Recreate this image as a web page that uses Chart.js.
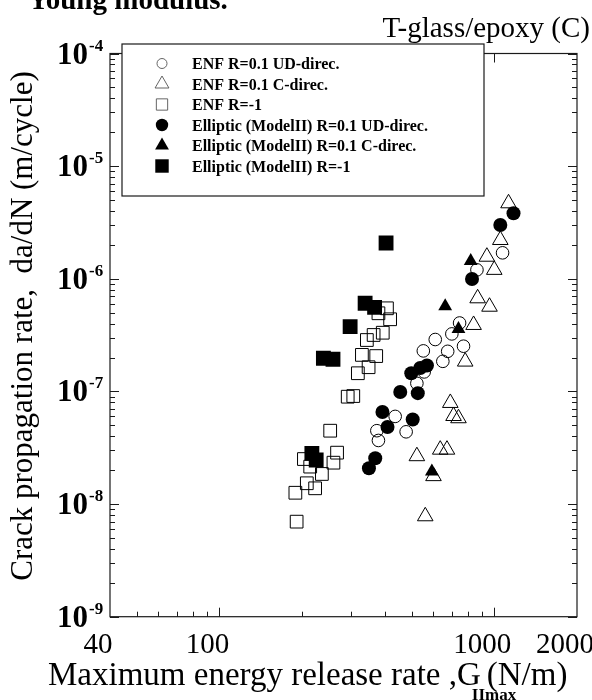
<!DOCTYPE html>
<html>
<head>
<meta charset="utf-8">
<script src="https://cdn.jsdelivr.net/npm/chart.js@4.4.1/dist/chart.umd.min.js"></script>
<style>
  html, body { margin: 0; padding: 0; background: #fff; }
  #chart { display: block; }
</style>
</head>
<body>
<canvas id="chart" width="592" height="700"></canvas>
<script>
// G_IImax (N/m) and da/dN (m/cycle)
const enfUdG    = [1072, 865, 748, 701, 610, 773, 552, 677, 650, 556, 523, 436, 374, 379, 478];
const enfUdRate = [1.7e-6, 1.2e-6, 4.05e-7, 3.24e-7, 2.89e-7, 2.52e-7, 2.29e-7, 2.27e-7, 1.85e-7, 1.49e-7, 1.18e-7, 6.0e-8, 4.48e-8, 3.67e-8, 4.38e-8];

const enfCG    = [1127, 1052, 940, 1000, 870, 961, 841, 784, 692, 711, 741, 636, 673, 523, 601, 561];
const enfCRate = [4.68e-6, 2.21e-6, 1.57e-6, 1.2e-6, 6.71e-7, 5.65e-7, 3.89e-7, 1.84e-7, 7.9e-8, 6.05e-8, 5.78e-8, 3.04e-8, 3.04e-8, 2.66e-8, 1.77e-8, 7.79e-9];

const enfRevG    = [407, 418, 379, 393, 364, 344, 372, 330, 349, 319, 307, 293, 253, 268, 260, 203, 214, 236, 208, 223, 189, 191];
const enfRevRate = [5.47e-7, 4.37e-7, 4.94e-7, 3.32e-7, 3.17e-7, 2.86e-7, 2.06e-7, 2.11e-7, 1.64e-7, 1.45e-7, 9.1e-8, 8.98e-8, 4.48e-8, 2.86e-8, 2.33e-8, 2.51e-8, 2.15e-8, 1.85e-8, 1.53e-8, 1.38e-8, 1.26e-8, 6.98e-9];

const ellUdG    = [1175, 1052, 830, 569, 538, 499, 455, 527, 392, 409, 505, 350, 369];
const ellUdRate = [3.82e-6, 3.0e-6, 9.96e-7, 1.70e-7, 1.615e-7, 1.45e-7, 9.89e-8, 9.65e-8, 6.57e-8, 4.83e-8, 5.64e-8, 2.08e-8, 2.55e-8];

const ellCG    = [821, 663, 741, 593];
const ellCRate = [1.44e-6, 5.70e-7, 3.58e-7, 1.95e-8];

const ellRevG    = [404, 339, 367, 299, 239, 259, 217, 225];
const ellRevRate = [2.08e-6, 6.06e-7, 5.58e-7, 3.76e-7, 1.97e-7, 1.93e-7, 2.82e-8, 2.46e-8];

const seriesLabels = [
  'ENF R=0.1 UD-direc.',
  'ENF R=0.1 C-direc.',
  'ENF R=-1',
  'Elliptic (ModelII) R=0.1 UD-direc.',
  'Elliptic (ModelII) R=0.1 C-direc.',
  'Elliptic (ModelII) R=-1'
];

const xTickLabels = [40, 100, 1000, 2000];
const xMajor = [100, 1000];
const xMinor = [50, 60, 70, 80, 90, 200, 300, 400, 500, 600, 700, 800, 900];
const yTickExps = [-4, -5, -6, -7, -8, -9];

const SERIF = '"Liberation Serif", "Times New Roman", serif';

function series(label, xs, ys, style, filled, r) {
  return {
    label: label,
    data: xs.map((g, i) => ({ x: g, y: ys[i] })),
    pointStyle: style,
    pointRadius: r,
    pointHoverRadius: r,
    backgroundColor: filled ? '#000' : 'rgba(0,0,0,0)',
    borderColor: '#000',
    borderWidth: filled ? 0 : 1,
    showLine: false,
    order: filled ? 0 : 1,
    filled: filled
  };
}

function drawMarker(ctx, style, filled, x, y, r) {
  ctx.beginPath();
  if (style === 'circle') {
    ctx.arc(x, y, r, 0, Math.PI * 2);
  } else if (style === 'triangle') {
    ctx.moveTo(x, y - r);
    ctx.lineTo(x + r * 0.866, y + r * 0.5);
    ctx.lineTo(x - r * 0.866, y + r * 0.5);
    ctx.closePath();
  } else {
    const s = r * 0.707;
    ctx.rect(x - s, y - s, 2 * s, 2 * s);
  }
  if (filled) {
    ctx.fillStyle = '#000';
    ctx.fill();
  } else {
    ctx.strokeStyle = '#555';
    ctx.lineWidth = 0.9;
    ctx.stroke();
  }
}

// frame, inward ticks, tick labels, titles, legend box
const decorPlugin = {
  id: 'decor',
  afterDraw(chart) {
    const ctx = chart.ctx;
    const a = chart.chartArea;
    const xs = chart.scales.x, ys = chart.scales.y;
    ctx.save();

    ctx.strokeStyle = '#1a1a1a';
    ctx.lineWidth = 1.2;
    ctx.strokeRect(a.left, a.top, a.right - a.left, a.bottom - a.top);

    ctx.lineWidth = 1;
    ctx.beginPath();
    const xt = xMajor.map(v => [v, 9]).concat(xMinor.map(v => [v, 5]));
    xt.forEach(([v, len]) => {
      const px = Math.round(xs.getPixelForValue(v)) + 0.5;
      ctx.moveTo(px, a.bottom); ctx.lineTo(px, a.bottom - len);
      ctx.moveTo(px, a.top); ctx.lineTo(px, a.top + len);
    });
    for (let k = -9; k <= -4; k++) {
      for (let m = 1; m <= 9; m++) {
        if (k === -4 && m > 1) break;
        const len = m === 1 ? 9 : 5;
        const py = Math.round(ys.getPixelForValue(m * Math.pow(10, k))) + 0.5;
        ctx.moveTo(a.left, py); ctx.lineTo(a.left + len, py);
        ctx.moveTo(a.right, py); ctx.lineTo(a.right - len, py);
      }
    }
    ctx.stroke();

    ctx.fillStyle = '#000';
    // x tick labels
    ctx.font = '29px ' + SERIF;
    ctx.textAlign = 'center';
    ctx.textBaseline = 'alphabetic';
    xTickLabels.forEach(v => {
      ctx.fillText(String(v), xs.getPixelForValue(v) - 12, a.bottom + 36);
    });

    // y tick labels with superscript exponent
    yTickExps.forEach(e => {
      const py = ys.getPixelForValue(Math.pow(10, e));
      ctx.font = 'bold 31px ' + SERIF;
      ctx.textAlign = 'right';
      ctx.fillText('10', a.left - 22, py + 10);
      ctx.font = 'bold 17px ' + SERIF;
      ctx.textAlign = 'left';
      ctx.fillText(String(e), a.left - 21, py - 3);
    });

    // x axis title with subscript
    ctx.textAlign = 'left';
    ctx.font = '33px ' + SERIF;
    const main = 'Maximum energy release rate ,G';
    const x0 = 48, base = 685;
    ctx.fillText(main, x0, base);
    const gEnd = x0 + ctx.measureText(main).width;
    ctx.fillText('(N/m)', gEnd + 6, base);
    ctx.font = 'bold 17px ' + SERIF;
    ctx.fillText('IImax', gEnd - 9, base + 15);

    // y axis title
    ctx.save();
    ctx.translate(32, 326);
    ctx.rotate(-Math.PI / 2);
    ctx.font = '31px ' + SERIF;
    ctx.textAlign = 'center';
    ctx.fillText('Crack propagation rate,  da/dN (m/cycle)', 0, 0);
    ctx.restore();

    // panel title and cut-off caption line
    ctx.font = '29px ' + SERIF;
    ctx.textAlign = 'right';
    ctx.fillText('T-glass/epoxy (C)', 590, 37);
    ctx.textAlign = 'left';
    ctx.font = 'bold 29px ' + SERIF;
    ctx.fillText('Young modulus.', 28, 9);

    // legend
    const bx = a.left + 12, by = a.top - 9.5, bw = 362, bh = 152;
    ctx.fillStyle = '#fff';
    ctx.fillRect(bx, by, bw, bh);
    ctx.strokeStyle = '#1a1a1a';
    ctx.lineWidth = 1.2;
    ctx.strokeRect(bx, by, bw, bh);
    chart.data.datasets.forEach((ds, i) => {
      const cy = by + 19.5 + i * 20.5;
      const r = ds.pointStyle === 'circle' ? (ds.filled ? 6.2 : 5) : (ds.pointStyle === 'rect' ? (ds.filled ? 9.5 : 8) : 8);
      drawMarker(ctx, ds.pointStyle, ds.filled, bx + 40, cy, r);
      ctx.fillStyle = '#000';
      ctx.font = 'bold 16px ' + SERIF;
      ctx.textAlign = 'left';
      ctx.fillText(ds.label, bx + 70, cy + 5.5);
    });

    ctx.restore();
  }
};

const ctx = document.getElementById('chart').getContext('2d');
const crackChart = new Chart(ctx, {
  type: 'scatter',
  data: {
    datasets: [
      series(seriesLabels[0], enfUdG, enfUdRate, 'circle', false, 6.3),
      series(seriesLabels[1], enfCG, enfCRate, 'triangle', false, 9),
      series(seriesLabels[2], enfRevG, enfRevRate, 'rect', false, 9),
      series(seriesLabels[3], ellUdG, ellUdRate, 'circle', true, 7),
      series(seriesLabels[4], ellCG, ellCRate, 'triangle', true, 8),
      series(seriesLabels[5], ellRevG, ellRevRate, 'rect', true, 10.5)
    ]
  },
  options: {
    responsive: false,
    animation: false,
    devicePixelRatio: 1,
    layout: { padding: { left: 110, right: 15, top: 53.5, bottom: 83.3 } },
    scales: {
      x: { type: 'logarithmic', min: 40, max: 2000, display: false },
      y: { type: 'logarithmic', min: 1e-9, max: 1e-4, display: false }
    },
    plugins: {
      legend: { display: false },
      tooltip: { enabled: false }
    }
  },
  plugins: [decorPlugin]
});
</script>
</body>
</html>
